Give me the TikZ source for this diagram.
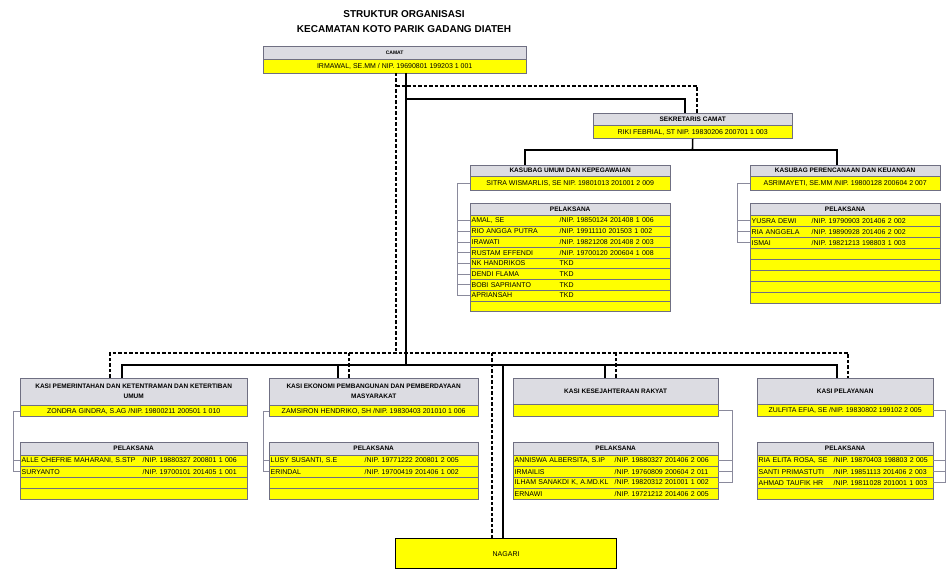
\documentclass[tikz,border=0pt]{standalone}
\usepackage{fontspec}
\setmainfont{Liberation Sans}

\definecolor{abu}{HTML}{DCDCE2}
\definecolor{garis}{HTML}{6F6F82}
\definecolor{kuning}{HTML}{FFFF00}
\definecolor{kurung}{HTML}{8A8A9C}

\tikzset{
  kepala/.style={draw=garis, fill=abu, anchor=north west, inner sep=0pt, align=center, font=\fontsize{6.5}{10}\selectfont\bfseries},
  nama/.style={draw=garis, fill=kuning, anchor=north west, inner sep=0pt, align=center, font=\fontsize{7}{8}\selectfont},
  baris/.style={draw=garis, fill=kuning, anchor=north west, inner xsep=1.5pt, inner ysep=0pt, minimum height=11pt, align=left, font=\fontsize{7}{8}\selectfont},
  tegas/.style={line width=1.6pt},
  putus/.style={line width=1.1pt, dash pattern=on 3.5pt off 2pt},
  siku/.style={draw=kurung, line width=0.5pt}
}

\begin{document}
\begin{tikzpicture}[x=1pt, y=-1pt]

\path[use as bounding box, fill=white] (0,0) rectangle (946,569);

\node[font=\fontsize{10}{15}\selectfont\bfseries, align=center] (judul) at (404,21.5) {STRUKTUR ORGANISASI\\KECAMATAN KOTO PARIK GADANG DIATEH};

\node[kepala, minimum width=263pt, minimum height=13pt, font=\fontsize{5}{6}\selectfont\bfseries] (camat) at (263,46) {CAMAT};
\node[nama, minimum width=263pt, minimum height=14pt] (camatnama) at (camat.south west) {IRMAWAL, SE.MM / NIP. 19690801 199203 1 001};

\node[kepala, minimum width=199pt, minimum height=12pt] (sekcam) at (593,113) {SEKRETARIS CAMAT};
\node[nama, minimum width=199pt, minimum height=13pt] (sekcamnama) at (sekcam.south west) {RIKI FEBRIAL, ST NIP. 19830206 200701 1 003};

\node[kepala, minimum width=200pt, minimum height=11pt] (kaumum) at (470,165) {KASUBAG UMUM DAN KEPEGAWAIAN};
\node[nama, minimum width=200pt, minimum height=14pt] (kaumumnama) at (kaumum.south west) {SITRA WISMARLIS, SE NIP. 19801013 201001 2 009};

\node[kepala, minimum width=190pt, minimum height=11pt] (kaperen) at (750,165) {KASUBAG PERENCANAAN DAN KEUANGAN};
\node[nama, minimum width=190pt, minimum height=14pt] (kaperennama) at (kaperen.south west) {ASRIMAYETI, SE.MM /NIP. 19800128 200604 2 007};

\node[kepala, minimum width=200pt, minimum height=12pt] (pelumum) at (470,203) {PELAKSANA};
\foreach \nm/\nip [count=\i] in {{AMAL, SE}/{/NIP. 19850124 201408 1 006}, {RIO ANGGA PUTRA}/{/NIP. 19911110 201503 1 002}, {IRAWATI}/{/NIP. 19821208 201408 2 003}, {RUSTAM EFFENDI}/{/NIP. 19700120 200604 1 008}, {NK HANDRIKOS}/{TKD}, {DENDI FLAMA}/{TKD}, {BOBI SAPRIANTO}/{TKD}, {APRIANSAH}/{TKD}, {}/{}}
  \node[baris, text width=197pt, minimum height=10.7pt] (umum\i) at (470,{215+10.7*(\i-1)}) {\makebox[88pt][l]{\nm}\nip};

\node[kepala, minimum width=190pt, minimum height=12pt] (pelperen) at (750,203) {PELAKSANA};
\foreach \nm/\nip [count=\i] in {{YUSRA DEWI}/{/NIP. 19790903 201406 2 002}, {RIA ANGGELA}/{/NIP. 19890928 201406 2 002}, {ISMAI}/{/NIP. 19821213 198803 1 003}, {}/{}, {}/{}, {}/{}, {}/{}, {}/{}}
  \node[baris, text width=187pt] (peren\i) at (750,{215+11*(\i-1)}) {\makebox[60pt][l]{\nm}\nip};

\node[kepala, minimum width=227pt, minimum height=27pt] (kasi1) at (20,378) {KASI PEMERINTAHAN DAN KETENTRAMAN DAN KETERTIBAN\\UMUM};
\node[nama, minimum width=227pt, minimum height=11pt] (kasi1nama) at (kasi1.south west) {ZONDRA GINDRA, S.AG /NIP. 19800211 200501 1 010};
\node[kepala, minimum width=209pt, minimum height=27pt] (kasi2) at (269,378) {KASI EKONOMI PEMBANGUNAN DAN PEMBERDAYAAN\\MASYARAKAT};
\node[nama, minimum width=209pt, minimum height=11pt] (kasi2nama) at (kasi2.south west) {ZAMSIRON HENDRIKO, SH /NIP. 19830403 201010 1 006};
\node[kepala, minimum width=205pt, minimum height=26pt] (kasi3) at (513,378) {KASI KESEJAHTERAAN RAKYAT};
\node[nama, minimum width=205pt, minimum height=12pt] (kasi3nama) at (kasi3.south west) {};
\node[kepala, minimum width=176pt, minimum height=26pt] (kasi4) at (757,378) {KASI PELAYANAN};
\node[nama, minimum width=176pt, minimum height=12pt] (kasi4nama) at (kasi4.south west) {ZULFITA EFIA, SE /NIP. 19830802 199102 2 005};

\node[kepala, minimum width=227pt, minimum height=13pt] (pelpem) at (20,442) {PELAKSANA};
\foreach \nm/\nip [count=\i] in {{ALLE CHEFRIE MAHARANI, S.STP}/{/NIP. 19880327 200801 1 006}, {SURYANTO}/{/NIP. 19700101 201405 1 001}, {}/{}, {}/{}}
  \node[baris, text width=224pt] (pem\i) at (20,{455+11*(\i-1)}) {\makebox[121pt][l]{\nm}\nip};

\node[kepala, minimum width=209pt, minimum height=13pt] (peleko) at (269,442) {PELAKSANA};
\foreach \nm/\nip [count=\i] in {{LUSY SUSANTI, S.E}/{/NIP. 19771222 200801 2 005}, {ERINDAL}/{/NIP. 19700419 201406 1 002}, {}/{}, {}/{}}
  \node[baris, text width=206pt] (eko\i) at (269,{455+11*(\i-1)}) {\makebox[94pt][l]{\nm}\nip};

\node[kepala, minimum width=205pt, minimum height=13pt] (pelkesra) at (513,442) {PELAKSANA};
\foreach \nm/\nip [count=\i] in {{ANNISWA ALBERSITA, S.IP}/{/NIP. 19880327 201406 2 006}, {IRMAILIS}/{/NIP. 19760809 200604 2 011}, {ILHAM SANAKDI K, A.MD.KL}/{/NIP. 19820312 201001 1 002}, {ERNAWI}/{/NIP. 19721212 201406 2 005}}
  \node[baris, text width=202pt] (kesra\i) at (513,{455+11*(\i-1)}) {\makebox[100pt][l]{\nm}\nip};

\node[kepala, minimum width=176pt, minimum height=13pt] (pellay) at (757,442) {PELAKSANA};
\foreach \nm/\nip [count=\i] in {{RIA ELITA ROSA, SE}/{/NIP. 19870403 198803 2 005}, {SANTI PRIMASTUTI}/{/NIP. 19851113 201406 2 003}, {AHMAD TAUFIK HR}/{/NIP. 19811028 201001 1 003}, {}/{}}
  \node[baris, text width=173pt] (lay\i) at (757,{455+11*(\i-1)}) {\makebox[75pt][l]{\nm}\nip};

\node[draw, line width=1.2pt, fill=kuning, minimum width=221pt, minimum height=30pt, anchor=north west, font=\fontsize{7}{8}\selectfont] (nagari) at (395,538) {NAGARI};

\coordinate (camatkanan) at (406,73);
\coordinate (simpangsek) at (406,99);
\coordinate (simpangbawah) at (406,365);
\coordinate (sekkiri) at (685,113);
\coordinate (sekbawah) at (692.5,150);
\coordinate (umumatas) at (525,165);
\coordinate (perenatas) at (837,165);
\coordinate (k1atas) at (122,378);
\coordinate (k2atas) at (338,378);
\coordinate (k3atas) at (605,378);
\coordinate (k4atas) at (837,378);
\coordinate (nagarikanan) at (503,538);

\draw[tegas] (camatkanan) -- (simpangbawah);
\draw[tegas] (simpangsek) -| (sekkiri);
\draw[tegas] (sekcamnama.south) -- (sekbawah);
\draw[tegas] (umumatas) |- (sekbawah) -| (perenatas);
\draw[tegas] (k1atas) |- (k4atas |- simpangbawah) -- (k4atas);
\foreach \k in {k2atas, k3atas, nagarikanan}
  \draw[tegas] (\k) -- (\k |- simpangbawah);

\coordinate (camattengah) at (396,73);
\coordinate (putussek) at (396,86);
\coordinate (putusbawah) at (396,353);
\coordinate (sekkanan) at (697,113);
\coordinate (d1atas) at (110,378);
\coordinate (d2atas) at (349,378);
\coordinate (d3atas) at (616,378);
\coordinate (d4atas) at (848,378);
\coordinate (nagarikiri) at (492,538);

\draw[putus] (camattengah) -- (putusbawah);
\draw[putus] (putussek) -| (sekkanan);
\draw[putus] (d1atas) |- (d4atas |- putusbawah) -- (d4atas);
\foreach \k in {d2atas, d3atas, nagarikiri}
  \draw[putus] (\k) -- (\k |- putusbawah);

\draw[siku] (kaumumnama.west) -- ++(-13,0) |- (umum8.west);
\foreach \i in {1,...,7}
  \draw[siku] (umum\i.west) -- ++(-13,0);
\draw[siku] (kaperennama.west) -- ++(-13,0) |- (peren3.west);
\foreach \i in {1,2}
  \draw[siku] (peren\i.west) -- ++(-13,0);
\draw[siku] (kasi1nama.west) -- ++(-7,0) |- (pem2.west);
\draw[siku] (pem1.west) -- ++(-7,0);
\draw[siku] (kasi2nama.west) -- ++(-6,0) |- (eko2.west);
\draw[siku] (eko1.west) -- ++(-6,0);
\draw[siku] (kasi3nama.east) -- ++(14,0) |- (kesra3.east);
\foreach \i in {1,2}
  \draw[siku] (kesra\i.east) -- ++(14,0);
\draw[siku] (kasi4nama.east) -- ++(12,0) |- (lay3.east);
\foreach \i in {1,2}
  \draw[siku] (lay\i.east) -- ++(12,0);

\end{tikzpicture}
\end{document}
